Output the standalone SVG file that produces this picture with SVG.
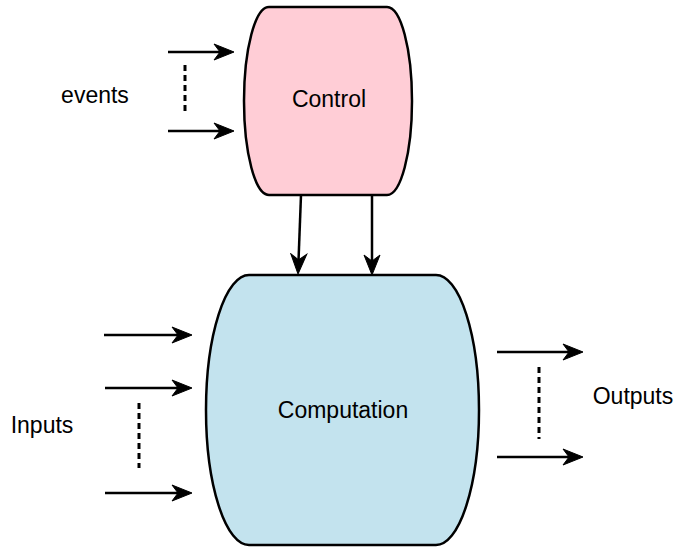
<svg xmlns="http://www.w3.org/2000/svg" width="675" height="547" viewBox="0 0 675 547">
<style>
.node{stroke:#000;stroke-width:2.5}
.lbl{font-family:"Liberation Sans",Arial,sans-serif;font-size:23px;fill:#000;text-anchor:middle}
.arr{stroke:#000;stroke-width:2.5;fill:none;marker-end:url(#ah)}
.dot{stroke:#000;stroke-width:3;fill:none;stroke-dasharray:6,4}
</style>
<defs>
<marker id="ah" viewBox="-21 -10 22 20" refX="-13" refY="0" markerWidth="22" markerHeight="20" orient="auto" markerUnits="userSpaceOnUse">
<path d="M0,0 L-20,-8 L-14,0 L-20,8 Z" fill="#000" stroke="#000" stroke-width="1" stroke-linejoin="miter"/>
</marker>
</defs>
<rect width="675" height="547" fill="#fff"/>
<g id="control">
<path class="node" fill="#ffcdd6" d="M269,7 L387,7 A25,94 0 0 1 387,195 L269,195 A25,94 0 0 1 269,7 Z"/>
<text class="lbl" x="329" y="107">Control</text>
</g>
<g id="computation">
<path class="node" fill="#c3e3ee" d="M249,275 L436,275 A43,135 0 0 1 436,545 L249,545 A43,135 0 0 1 249,275 Z"/>
<text class="lbl" x="343" y="418">Computation</text>
</g>
<g id="events-label"><text class="lbl" x="95" y="103">events</text></g>
<g id="inputs-label"><text class="lbl" x="42" y="433">Inputs</text></g>
<g id="outputs-label"><text class="lbl" x="633" y="404">Outputs</text></g>
<g id="connectors">
<line class="arr" x1="168" y1="52" x2="221" y2="52"/>
<line class="arr" x1="168" y1="131" x2="221" y2="131"/>
<line class="dot" x1="185" y1="65" x2="185" y2="114"/>
<line class="arr" x1="301" y1="195" x2="298.5" y2="261"/>
<line class="arr" x1="372" y1="195" x2="372" y2="262"/>
<line class="arr" x1="104" y1="335" x2="179" y2="335"/>
<line class="arr" x1="105" y1="388" x2="179" y2="388"/>
<line class="arr" x1="105" y1="493" x2="179" y2="493"/>
<line class="dot" x1="139" y1="403" x2="139" y2="468"/>
<line class="arr" x1="497" y1="352" x2="570" y2="352"/>
<line class="arr" x1="497" y1="457" x2="570" y2="457"/>
<line class="dot" x1="539" y1="367" x2="539" y2="439"/>
</g>
</svg>
